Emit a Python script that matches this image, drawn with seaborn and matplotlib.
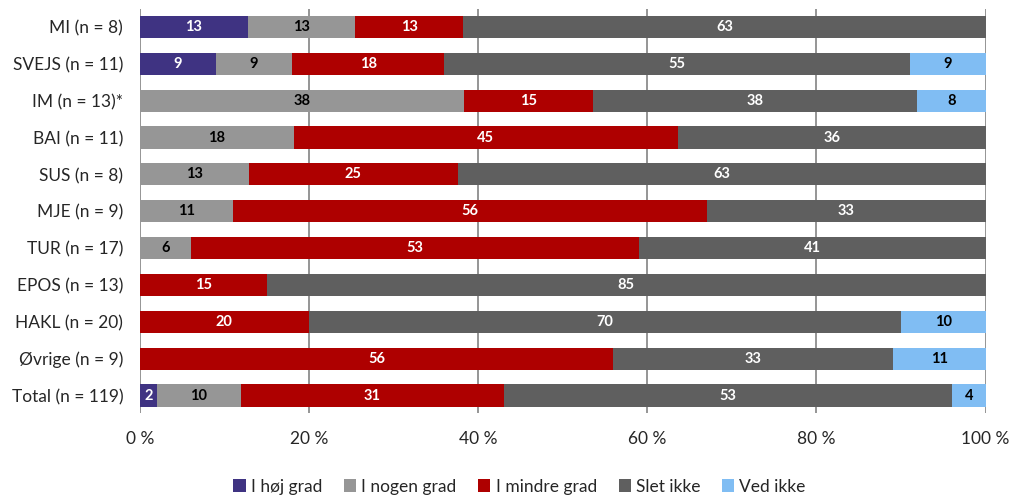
import numpy as np
import pandas as pd
import matplotlib.pyplot as plt
import seaborn as sns

# categories (top to bottom) and the labelled shares per answer
categories = ["MI (n = 8)", "SVEJS (n = 11)", "IM (n = 13)*", "BAI (n = 11)", "SUS (n = 8)",
              "MJE (n = 9)", "TUR (n = 17)", "EPOS (n = 13)", "HAKL (n = 20)", "Øvrige (n = 9)",
              "Total (n = 119)"]
series = ["I høj grad", "I nogen grad", "I mindre grad", "Slet ikke", "Ved ikke"]
hoej = [13, 9, 0, 0, 0, 0, 0, 0, 0, 0, 2]
nogen = [13, 9, 38, 18, 13, 11, 6, 0, 0, 0, 10]
mindre = [13, 18, 15, 45, 25, 56, 53, 15, 20, 56, 31]
slet = [63, 55, 38, 36, 63, 33, 41, 85, 70, 33, 53]
ved = [0, 9, 8, 0, 0, 0, 0, 0, 10, 11, 4]

colors = ["#3f3382", "#969696", "#ae0000", "#5f5f5f", "#80bdf3"]
text_colors = ["white", "black", "white", "white", "black"]

vals = np.array([hoej, nogen, mindre, slet, ved], dtype=float)
shares = vals / vals.sum(axis=0) * 100   # 100 % stacked
cum = np.cumsum(shares, axis=0)

sns.set_theme(style="white")
plt.rcParams['font.family'] = ['Lato', 'DejaVu Sans']

fig, ax = plt.subplots(figsize=(10.13, 4.95), dpi=100)
fig.subplots_adjust(left=0.138, right=0.973, top=0.982, bottom=0.166)

# draw the cumulative totals from the back to the front
for i in reversed(range(len(series))):
    df = pd.DataFrame({"cat": categories, "x": cum[i]})
    sns.barplot(data=df, x="x", y="cat", orient="h", color=colors[i], width=0.6,
                linewidth=0, saturation=1, ax=ax, label=series[i], zorder=3)

for i in range(len(series)):
    left = cum[i] - shares[i]
    for j in range(len(categories)):
        if vals[i, j] > 0:
            ax.text(left[j] + shares[i, j] / 2, j, f"{int(vals[i, j])}", ha="center", va="center",
                    fontsize=10.5, fontweight="bold", color=text_colors[i], zorder=4)

ax.set_xlim(0, 100)
ax.set_ylim(10.47, -0.49)
ax.set_xticks(range(0, 101, 20))
ax.set_xticklabels([f"{t} %" for t in range(0, 101, 20)])
ax.tick_params(axis="x", labelsize=12.5, pad=13, length=0)
ax.tick_params(axis="y", labelsize=12.5, pad=12, length=0)
ax.set_xlabel("")
ax.set_ylabel("")
ax.grid(axis="x", color="#8c8c8c", linewidth=1.3)
ax.grid(axis="y", visible=False)
for s in ax.spines.values():
    s.set_visible(False)

handles, labels = ax.get_legend_handles_labels()
if ax.get_legend() is not None:
    ax.get_legend().remove()
order = [labels.index(s) for s in series]
fig.legend([handles[k] for k in order], series, loc="center", bbox_to_anchor=(0.513, 0.017),
           ncol=5, frameon=False, fontsize=12.5, handlelength=0.7, handleheight=0.7,
           handletextpad=0.3, columnspacing=1.25)

fig.savefig("out.png", dpi=100)
